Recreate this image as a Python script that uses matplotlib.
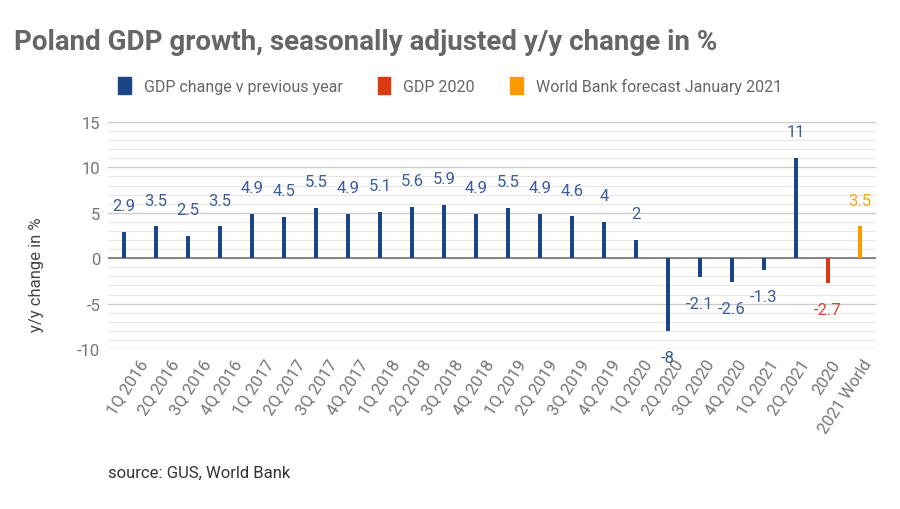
import matplotlib
matplotlib.use("Agg")
import matplotlib.pyplot as plt
from matplotlib.patches import Patch
from matplotlib.ticker import MultipleLocator
from matplotlib.transforms import ScaledTranslation

plt.rcParams['font.family'] = ['Roboto', 'DejaVu Sans']
plt.rcParams['axes.unicode_minus'] = False

categories = ["1Q 2016", "2Q 2016", "3Q 2016", "4Q 2016", "1Q 2017", "2Q 2017", "3Q 2017", "4Q 2017",
              "1Q 2018", "2Q 2018", "3Q 2018", "4Q 2018", "1Q 2019", "2Q 2019", "3Q 2019", "4Q 2019",
              "1Q 2020", "2Q 2020", "3Q 2020", "4Q 2020", "1Q 2021", "2Q 2021", "2020", "2021 World"]
values = [2.9, 3.5, 2.5, 3.5, 4.9, 4.5, 5.5, 4.9, 5.1, 5.6, 5.9, 4.9, 5.5, 4.9, 4.6, 4, 2,
          -8, -2.1, -2.6, -1.3, 11, -2.7, 3.5]
series = ["q"] * 22 + ["y2020", "wb"]
value_labels = ["2.9", "3.5", "2.5", "3.5", "4.9", "4.5", "5.5", "4.9", "5.1", "5.6", "5.9", "4.9",
                "5.5", "4.9", "4.6", "4", "2", "-8", "-2.1", "-2.6", "-1.3", "11", "-2.7", "3.5"]
legend_labels = {"q": "GDP change v previous year", "y2020": "GDP 2020",
                 "wb": "World Bank forecast January 2021"}
colors = {"q": "#1c4587", "y2020": "#dc3912", "wb": "#ff9900"}
label_colors = {"q": "#3d5c9c", "y2020": "#e0482a", "wb": "#ffa21f"}

fig = plt.figure(figsize=(9, 5.1), dpi=100)
ax = fig.add_axes([0.12, 0.3137, 0.853, 0.4451])

x = list(range(len(categories)))
ax.bar(x, values, width=0.12, color=[colors[s] for s in series], zorder=3)

for xi, v, lab, s in zip(x, values, value_labels, series):
    off = 19 if v >= 0 else -19
    ax.annotate(lab, (xi, v), xytext=(0, off), textcoords="offset points",
                ha="center", va="center", fontsize=12, color=label_colors[s], zorder=4)

ax.set_xlim(-0.5, len(categories) - 0.5)
ax.set_ylim(-10, 15)
ax.yaxis.set_major_locator(MultipleLocator(5))
ax.yaxis.set_minor_locator(MultipleLocator(1))
ax.grid(axis="y", which="major", color="#cccccc", linewidth=1.0, zorder=0)
ax.grid(axis="y", which="minor", color="#e8e8e8", linewidth=0.8, zorder=0)
ax.axhline(0, color="#777777", linewidth=1.2, zorder=2)
for sp in ax.spines.values():
    sp.set_visible(False)
ax.tick_params(axis="both", which="both", length=0)
ax.tick_params(axis="y", labelsize=12, labelcolor="#757575", pad=5.5)
ax.set_xticks(x)
ax.set_xticklabels(categories, rotation=57, ha="right", rotation_mode="anchor",
                   fontsize=12, color="#757575")
ax.tick_params(axis="x", pad=4)
n = len(categories)
for i, lbl in enumerate(ax.get_xticklabels()):
    dx = 14 - 11.5 * i / (n - 1)
    lbl.set_transform(lbl.get_transform() + ScaledTranslation(dx / 100, -2 / 100, fig.dpi_scale_trans))

fig.text(0.041, 0.461, "y/y change in %", rotation=90, ha="center", va="center",
         fontsize=12, color="#444444")

fig.text(0.016, 0.916, "Poland GDP growth, seasonally adjusted y/y change in %",
         fontsize=20, fontweight="bold", color="#666666", ha="left", va="center")

handles = [Patch(facecolor=colors[k], edgecolor=colors[k], label=legend_labels[k])
           for k in ["q", "y2020", "wb"]]
leg = fig.legend(handles=handles, loc="center", bbox_to_anchor=(0.5, 0.83), ncol=3,
                 frameon=False, fontsize=11.5, handlelength=0.8, handleheight=1.2,
                 handletextpad=0.8, columnspacing=2.2)
for t in leg.get_texts():
    t.set_color("#666666")

fig.text(0.12, 0.072, "source: GUS, World Bank", fontsize=12, color="#333333",
         ha="left", va="center")

fig.savefig("out.png", dpi=100)
